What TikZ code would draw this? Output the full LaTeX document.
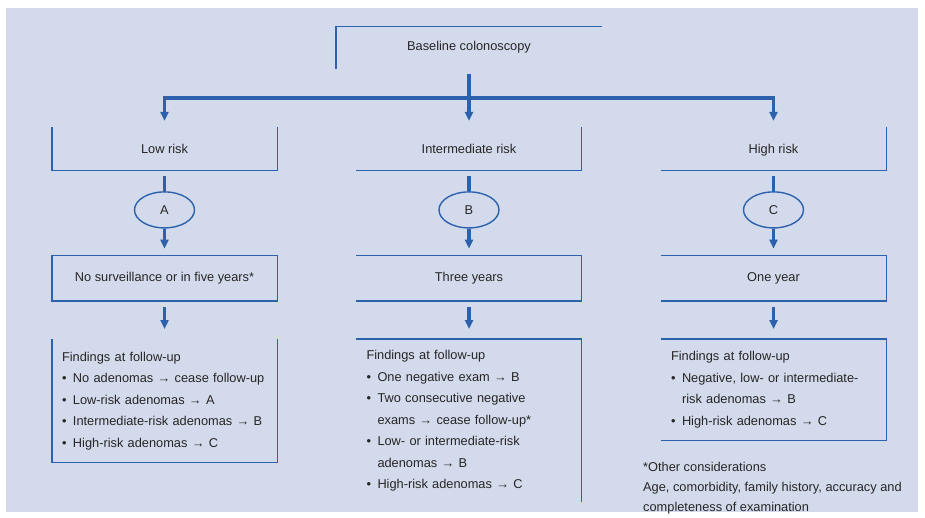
\documentclass[tikz,border=0pt]{standalone}
\usepackage{fontspec}
\setmainfont{Liberation Sans}
\usetikzlibrary{arrows.meta,positioning,shapes.geometric}
\definecolor{panel}{HTML}{D3DAEB}
\definecolor{rimblue}{HTML}{2C62AD}
\definecolor{ink}{HTML}{262626}
\newcommand{\bul}{\makebox[11pt][l]{•}}
\newcommand{\ind}{\hspace*{11pt}}

\begin{document}
\begin{tikzpicture}[x=1pt,y=1pt,
font=\fontsize{12.8}{21.5}\selectfont,
every node/.style={text=ink},
rim/.style={draw=rimblue,line width=1.4pt},
riskbox/.style={minimum width=225pt,minimum height=43pt,inner sep=0pt,align=center,text height=2.2ex,text depth=.4ex},
yearbox/.style={minimum width=225pt,minimum height=45pt,inner sep=0pt,align=center,text height=1.6ex,text depth=.4ex},
grade/.style={ellipse,draw=rimblue,line width=1.4pt,minimum width=60pt,minimum height=36pt,inner sep=0pt},
findbox/.style={minimum width=225pt,text width=205pt,inner xsep=10pt,inner ysep=0pt,align=left},
stem/.style={draw=rimblue,line width=3.2pt},
arr/.style={stem,-{Triangle[length=9pt,width=8pt]}}
]
\useasboundingbox (0,0) rectangle (925,-517);
\fill[panel] (6,-8) rectangle (918,-512);

% top of the tree
\node[minimum width=266pt,minimum height=42pt,inner sep=0pt] (base) at (469,-47.5) {Baseline colonoscopy};
\node[riskbox] (low) at (164.5,-148.5) {Low risk};
\node[riskbox] (mid) at (469,-148.5) {Intermediate risk};
\node[riskbox] (high) at (773.5,-148.5) {High risk};
\coordinate (bus) at (469,-98);

% grades
\node[grade,below=21pt of low] (ga) {A};
\node[grade,below=21pt of mid] (gb) {B};
\node[grade,below=21pt of high] (gc) {C};

% intervals
\node[yearbox,below=27pt of ga] (yl) {No surveillance or in five years*};
\node[yearbox,below=27pt of gb] (ym) {Three years};
\node[yearbox,below=27pt of gc] (yh) {One year};

% findings
\node[findbox,minimum height=123pt,below=38pt of yl] (fl) {Findings at follow-up\\
\bul No adenomas → cease follow-up\\
\bul Low-risk adenomas → A\\
\bul Intermediate-risk adenomas → B\\
\bul High-risk adenomas → C};
\node[findbox,minimum height=163pt,below=38pt of ym] (fm) {Findings at follow-up\\
\bul One negative exam → B\\
\bul Two consecutive negative\\
\ind exams → cease follow-up*\\
\bul Low- or intermediate-risk\\
\ind adenomas → B\\
\bul High-risk adenomas → C};
\node[findbox,minimum height=101pt,below=38pt of yh] (fh) {Findings at follow-up\\
\bul Negative, low- or intermediate-\\
\ind risk adenomas → B\\
\bul High-risk adenomas → C};

\node[anchor=north west,align=left,inner sep=0pt,font=\fontsize{12.8}{20}\selectfont] (note) at (643,-462)
  {*Other considerations\\Age, comorbidity, family history, accuracy and\\completeness of examination};

% box sides
\draw[rim] (base.south west) -- (base.north west) -- (base.north east);
\draw[rim] (low.north west) -- (low.south west) -- (low.south east) -- (low.north east);
\draw[rim] (mid.south west) -- (mid.south east) -- (mid.north east);
\draw[rim] (high.south west) -- (high.south east) -- (high.north east);
\draw[rim] (yl.south west) rectangle (yl.north east);
\draw[rim] (ym.north west) -- (ym.north east) -- (ym.south east) -- (ym.south west);
\draw[rim] (yh.north west) -- (yh.north east) -- (yh.south east) -- (yh.south west);
\draw[rim] (fl.north west) -- (fl.south west) -- (fl.south east) -- (fl.north east);
\draw[rim] (fm.north west) -- (fm.north east) -- (fm.south east);
\draw[rim] (fh.north west) -- (fh.north east) -- (fh.south east) -- (fh.south west);

% connectors
\draw[stem,shorten <=5pt] (base) -- (bus);
\draw[stem,line cap=rect] (low |- bus) -- (high |- bus);
\foreach \r/\g/\y/\f in {low/ga/yl/fl,mid/gb/ym/fm,high/gc/yh/fh}{
  \draw[arr,shorten >=6pt] (\r |- bus) -- (\r);
  \draw[stem,shorten <=6pt] (\r) -- (\g);
  \draw[arr,shorten >=7pt] (\g) -- (\y);
  \draw[arr,shorten <=6pt,shorten >=10pt] (\y) -- (\f);
}
\end{tikzpicture}
\end{document}
